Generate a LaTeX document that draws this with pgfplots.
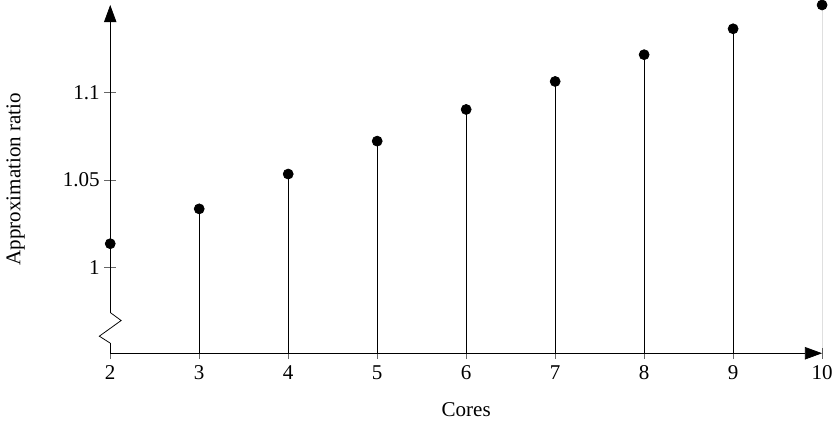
\documentclass[border=0pt]{standalone}
\usepackage{fontspec}
\setmainfont{Liberation Serif}
\usepackage{pgfplots}
\pgfplotsset{compat=1.18}
\usetikzlibrary{arrows.meta}
\begin{document}
\begin{tikzpicture}[font=\fontsize{11}{13}\selectfont]
\begin{axis}[
  scale only axis,
  width=372pt, height=182pt,
  axis lines=left,
  axis line style={-{Triangle[length=9pt,width=6.5pt]}, thin},
  xmin=2, xmax=10,
  ymin=0.951, ymax=1.15,
  xtick={2,...,10},
  ytick={1,1.05,1.1},
  tick align=center,
  tick style={black!60, thin},
  major tick length=6pt,
  yticklabel style={xshift=1pt},
  xlabel={Cores},
  ylabel={Approximation ratio},
  xlabel style={yshift=-5pt},
  ylabel style={yshift=13pt},
  clip mode=individual,
  /pgf/number format/assume math mode=true,
]
\addplot+[ycomb, black, thin, mark=*, mark size=2.6pt,
  mark options={fill=black}]
  coordinates {
    (2,1.0136) (3,1.0335) (4,1.0534) (5,1.0722) (6,1.0903)
    (7,1.1063) (8,1.1216) (9,1.1364) (10,1.1500)
  };
% break mark on the y axis
\draw[white, line width=2pt] (rel axis cs:0,0.029) -- (rel axis cs:0,0.117);
\draw[black, thin, line join=miter]
  (rel axis cs:0,0.117)
  -- ([xshift=5.7pt]rel axis cs:0,0.094)
  -- ([xshift=-5.7pt]rel axis cs:0,0.049)
  -- (rel axis cs:0,0.029);
\end{axis}
\end{tikzpicture}
\end{document}
